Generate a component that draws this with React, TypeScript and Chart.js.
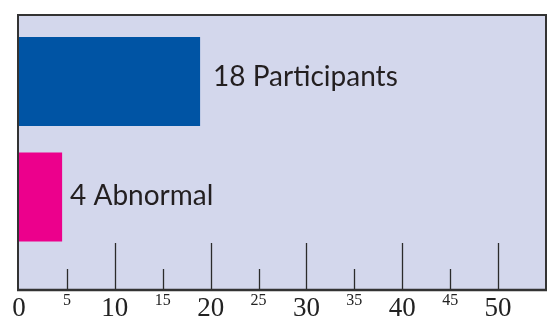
import React, { useEffect, useRef } from "react";
import { Chart, registerables } from "chart.js";

Chart.register(...registerables);

const categories = ["Participants", "Abnormal"];
const counts = [18, 4];
const barValues = [18.9, 4.5];
const barColors = ["#0054a4", "#ec008c"];
const majorTicks = [0, 10, 20, 30, 40, 50];
const minorTicks = [5, 15, 25, 35, 45];
const xMax = 55;

const plotBg = "#d3d7ec";
const ink = "#2b2b2b";

const framePlugin = {
  id: "frame",
  beforeDraw(chart: any) {
    const { ctx, chartArea: ca } = chart;
    ctx.save();
    ctx.fillStyle = plotBg;
    ctx.fillRect(ca.left - 1, ca.top, ca.right - ca.left + 1, ca.bottom - ca.top);
    ctx.restore();
  },
  afterDatasetsDraw(chart: any) {
    const { ctx, chartArea: ca } = chart;
    const xs = chart.scales.x;
    ctx.save();
    ctx.strokeStyle = ink;
    ctx.lineWidth = 1.3;
    xs.ticks.forEach((t: any) => {
      const v = t.value;
      let len = 0;
      if (majorTicks.includes(v) && v !== 0) len = 47;
      else if (minorTicks.includes(v)) len = 21;
      if (!len) return;
      const px = Math.round(xs.getPixelForValue(v)) + 0.5;
      ctx.beginPath();
      ctx.moveTo(px, ca.bottom);
      ctx.lineTo(px, ca.bottom - len);
      ctx.stroke();
    });
    const meta = chart.getDatasetMeta(0);
    const labelShift = [
      { dx: 13, dy: -5 },
      { dx: 8, dy: -1 },
    ];
    ctx.fillStyle = "#231f20";
    ctx.font = "28px Lato";
    ctx.textBaseline = "middle";
    ctx.textAlign = "left";
    meta.data.forEach((el: any, i: number) => {
      const s = labelShift[i] || { dx: 10, dy: -3 };
      ctx.fillText(`${counts[i]} ${categories[i]}`, el.x + s.dx, el.y + s.dy);
    });
    ctx.strokeStyle = "#333333";
    ctx.lineWidth = 2;
    ctx.beginPath();
    ctx.moveTo(ca.left - 1, ca.bottom);
    ctx.lineTo(ca.left - 1, ca.top);
    ctx.lineTo(ca.right, ca.top);
    ctx.lineTo(ca.right, ca.bottom);
    ctx.stroke();
    ctx.lineWidth = 2.6;
    ctx.beginPath();
    ctx.moveTo(ca.left - 2, ca.bottom);
    ctx.lineTo(ca.right + 1, ca.bottom);
    ctx.stroke();
    ctx.restore();
  },
};

export default function App() {
  const ref = useRef<HTMLCanvasElement | null>(null);
  useEffect(() => {
    if (!ref.current) return;
    const chart = new Chart(ref.current, {
      type: "bar",
      data: {
        datasets: [
          {
            data: barValues.map((v, i) => ({ x: v, y: i })),
            backgroundColor: barColors,
            borderWidth: 0,
            barPercentage: 0.77,
            categoryPercentage: 1,
          },
        ],
      },
      options: {
        animation: false,
        responsive: false,
        indexAxis: "y",
        layout: { padding: { left: 19, top: 15, right: 2, bottom: 0 } },
        plugins: { legend: { display: false }, tooltip: { enabled: false } },
        scales: {
          x: {
            type: "linear",
            min: 0,
            max: xMax,
            offset: false,
            grid: { display: false, drawTicks: false },
            border: { display: false },
            afterFit: (s: any) => {
              s.height = 26;
            },
            ticks: {
              stepSize: 5,
              autoSkip: false,
              maxRotation: 0,
              padding: 1,
              color: "#222",
              callback: (v: any) =>
                majorTicks.includes(v) || minorTicks.includes(v) ? String(v) : "",
              font: (c: any) => {
                const minor = c.tick && minorTicks.includes(c.tick.value);
                return {
                  family: "'Liberation Serif', serif",
                  size: minor ? 16 : 27,
                  lineHeight: minor ? 1.2 : 1.33,
                };
              },
            },
          },
          y: {
            type: "linear",
            display: false,
            reverse: true,
            offset: false,
            grace: 0,
            min: -0.576,
            max: 1.805,
            ticks: { stepSize: 1, includeBounds: false },
            grid: { display: false, offset: false },
          },
        },
      },
      plugins: [framePlugin],
    } as any);
    return () => chart.destroy();
  }, []);
  return (
    <div style={{ position: "fixed", left: 0, top: 0, width: 548, height: 316 }}>
      <canvas ref={ref} width={548} height={316} style={{ display: "block" }} />
    </div>
  );
}
